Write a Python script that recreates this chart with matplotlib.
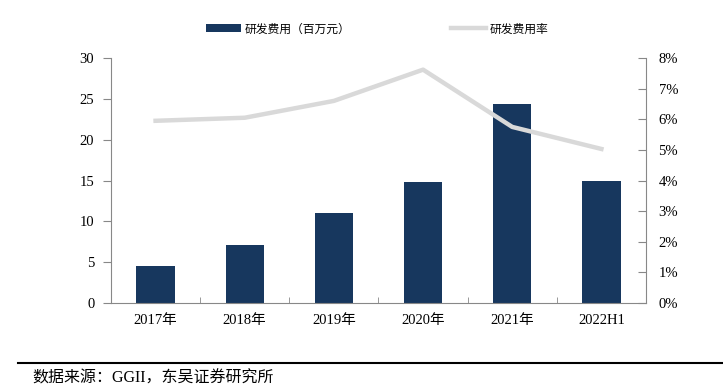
import numpy as np
import matplotlib
matplotlib.use("Agg")
import matplotlib.pyplot as plt
from matplotlib.ticker import FuncFormatter, FixedLocator

plt.rcParams['font.family'] = ['Liberation Serif', 'Noto Sans CJK SC']

years = ["2017年", "2018年", "2019年", "2020年", "2021年", "2022H1"]
rd_cost = [4.5, 7.1, 11.0, 14.8, 24.4, 14.9]          # 百万元
rd_ratio = [5.95, 6.05, 6.6, 7.62, 5.75, 5.03]        # %

bar_color = "#17375E"
line_color = "#D9D9D9"

fig = plt.figure(figsize=(7.23, 3.92), dpi=100)
ax = fig.add_axes([0.1535, 0.227, 0.74, 0.625])
x = np.arange(len(years))

bars = ax.bar(x, rd_cost, width=0.43, color=bar_color, zorder=2, label="研发费用（百万元）")
ax.set_xlim(-0.5, len(years) - 0.5)
ax.set_ylim(0, 30)
ax.set_yticks(np.arange(0, 31, 5))
ax.set_xticks(x)
ax.set_xticklabels(years)
ax.xaxis.set_minor_locator(FixedLocator(np.arange(0.5, len(years) - 1, 1)))
ax.tick_params(axis="x", which="major", length=0, pad=8, labelsize=10.5)
ax.tick_params(axis="x", which="minor", direction="in", length=4, color="#888888")
ax.tick_params(axis="y", direction="out", length=6, color="#888888", labelsize=10.5, pad=6)
for s in ["top", "right"]:
    ax.spines[s].set_visible(False)
ax.spines["left"].set_color("#888888")
ax.spines["bottom"].set_color("#888888")

ax2 = ax.twinx()
line, = ax2.plot(x, rd_ratio, color=line_color, lw=3.2, zorder=3, label="研发费用率")
ax2.set_ylim(0, 8)
ax2.set_yticks(np.arange(0, 9, 1))
ax2.yaxis.set_major_formatter(FuncFormatter(lambda v, p: "%d%%" % v))
ax2.tick_params(axis="y", direction="in", length=6, color="#888888", labelsize=10.5, pad=9)
for s in ["top", "left", "bottom"]:
    ax2.spines[s].set_visible(False)
ax2.spines["right"].set_color("#888888")

fig.legend(handles=[bars, line], loc="upper center", bbox_to_anchor=(0.522, 0.97), ncol=2,
           frameon=False, columnspacing=8.5, handlelength=3.0, handletextpad=0.3,
           prop={'family': ['Noto Sans CJK SC'], 'size': 8.5})

# footer
fig.add_artist(plt.Line2D([0.025, 1.0], [0.074, 0.074], color="black", lw=1.5, transform=fig.transFigure))
fig.text(0.045, 0.035, "数据来源：GGII，东吴证券研究所", fontsize=11.5, va="center", ha="left")

fig.savefig("out.png", dpi=100)
